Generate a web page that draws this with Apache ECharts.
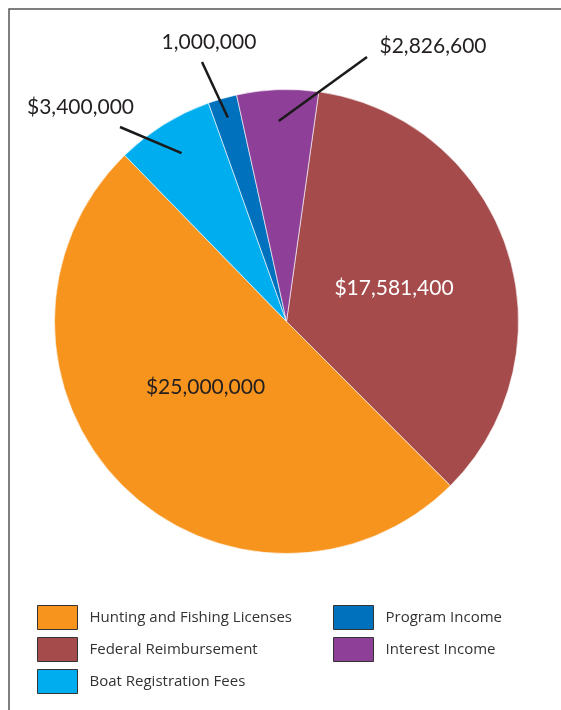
<!DOCTYPE html>
<html>
<head>
<meta charset="utf-8">
<script src="https://cdn.jsdelivr.net/npm/echarts@6/dist/echarts.min.js"></script>
<style>
html,body{margin:0;padding:0;background:#fff;}
#chart{width:561px;height:710px;}
</style>
</head>
<body>
<div id="chart"></div>
<script>
// ---- data ----
var categories = ['Federal Reimbursement', 'Hunting and Fishing Licenses', 'Boat Registration Fees', 'Program Income', 'Interest Income'];
var values = [17581400, 25000000, 3400000, 1000000, 2826600];
var labelTexts = ['$17,581,400', '$25,000,000', '$3,400,000', '1,000,000', '$2,826,600'];
var colors = ['#A54B4C', '#F7941E', '#00AEEF', '#0071BC', '#8E3F97'];
var legendLeft = ['Hunting and Fishing Licenses', 'Federal Reimbursement', 'Boat Registration Fees'];
var legendRight = ['Program Income', 'Interest Income'];

// ---- layout (positions only) ----
var CX = 286.5, CY = 321.5, R = 232, START = 82;
var labelPos = [[394, 288], [205.5, 387], [80.5, 107], [209, 42], [433, 46]];
var lineEnd = [null, null, [120, 127], [202, 62], [367, 57]];
var lineInner = [null, null, 0.855, 0.915, 0.865];

var total = values.reduce(function (a, b) { return a + b; }, 0);
function midAngle(i) {
  var cum = 0;
  for (var k = 0; k < i; k++) cum += values[k];
  var a0 = (90 - START) + cum / total * 360;
  return (a0 + values[i] / total * 180) * Math.PI / 180;
}

var chart = echarts.init(document.getElementById('chart'), null, {renderer: 'canvas'});

var baseItems = categories.map(function (c, i) {
  var inside = i < 2;
  return {
    name: c,
    value: values[i],
    itemStyle: {color: colors[i]},
    label: {
      show: inside,
      position: 'inside',
      formatter: labelTexts[i],
      color: i === 0 ? '#ffffff' : '#231F20'
    },
    labelLine: {show: false}
  };
});
var overlayItems = categories.map(function (c, i) {
  var inside = i < 2;
  return {
    name: c,
    value: values[i],
    itemStyle: {color: 'rgba(0,0,0,0)', borderWidth: 0},
    label: {
      show: !inside,
      position: 'outside',
      formatter: labelTexts[i],
      color: '#231F20'
    },
    labelLine: {show: !inside}
  };
});

function layoutFn(p) {
  var i = p.dataIndex;
  var res = {x: labelPos[i][0], y: labelPos[i][1], align: 'center', verticalAlign: 'middle'};
  if (lineEnd[i]) {
    var a = midAngle(i);
    var rr = R * lineInner[i];
    var inner = [CX + rr * Math.sin(a), CY - rr * Math.cos(a)];
    res.labelLinePoints = [inner, lineEnd[i], lineEnd[i]];
  }
  return res;
}

var legendCommon = {
  orient: 'vertical',
  top: 605,
  padding: 0,
  itemWidth: 40, itemHeight: 24, itemGap: 7,
  icon: 'rect',
  selectedMode: false,
  itemStyle: {borderColor: '#333', borderWidth: 1},
  textStyle: {fontFamily: 'Open Sans', fontSize: 15, color: '#333', padding: [0, 0, 0, 7]}
};

chart.setOption({
  animation: false,
  backgroundColor: '#ffffff',
  graphic: [{
    type: 'rect',
    shape: {x: 9, y: 9, width: 700, height: 800},
    style: {fill: 'none', stroke: '#555555', lineWidth: 1.5},
    silent: true
  }],
  legend: [
    Object.assign({}, legendCommon, {left: 37, data: legendLeft}),
    Object.assign({}, legendCommon, {left: 333, data: legendRight})
  ],
  series: [{
    type: 'pie',
    center: [CX, CY],
    radius: R,
    startAngle: START,
    clockwise: true,
    avoidLabelOverlap: false,
    data: baseItems,
    itemStyle: {borderColor: '#ffffff', borderWidth: 0.6},
    label: {fontFamily: 'Lato', fontSize: 21},
    emphasis: {disabled: true},
    labelLayout: layoutFn
  }, {
    type: 'pie',
    z: 5,
    center: [CX, CY],
    radius: R,
    startAngle: START,
    clockwise: true,
    avoidLabelOverlap: false,
    silent: true,
    data: overlayItems,
    label: {fontFamily: 'Lato', fontSize: 21},
    labelLine: {lineStyle: {color: '#1a1a1a', width: 2.5}, length: 20, length2: 0},
    emphasis: {disabled: true},
    labelLayout: layoutFn
  }]
});
</script>
</body>
</html>
